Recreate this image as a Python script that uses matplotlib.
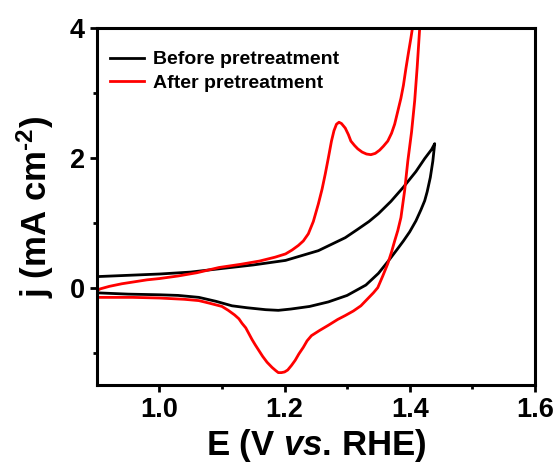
import matplotlib
matplotlib.use("Agg")
import matplotlib.pyplot as plt

plt.rcParams['font.family'] = ['Liberation Sans', 'DejaVu Sans']
plt.rcParams['font.weight'] = 'bold'
plt.rcParams['mathtext.fontset'] = 'custom'
plt.rcParams['mathtext.rm'] = 'Liberation Sans:bold'
plt.rcParams['mathtext.it'] = 'Liberation Sans:italic:bold'
plt.rcParams['mathtext.bf'] = 'Liberation Sans:bold'
plt.rcParams['mathtext.default'] = 'rm'

# Before pretreatment: anodic sweep then cathodic sweep
before_up_E = [0.90, 0.95, 1.00, 1.05, 1.095, 1.15, 1.2016, 1.254, 1.297, 1.317, 1.335, 1.35, 1.37,
               1.39, 1.41, 1.424, 1.435, 1.44]
before_up_j = [0.17, 0.19, 0.21, 0.24, 0.29, 0.35, 0.42, 0.57, 0.77, 0.90, 1.02, 1.14, 1.33,
               1.55, 1.79, 1.99, 2.13, 2.22]
before_dn_E = [1.44, 1.437, 1.433, 1.428, 1.424, 1.418, 1.41, 1.40, 1.39, 1.38, 1.365, 1.35, 1.33,
               1.30, 1.27, 1.24, 1.21, 1.19, 1.17, 1.14, 1.116, 1.09, 1.063, 1.03, 1.00, 0.95, 0.90]
before_dn_j = [2.22, 1.95, 1.70, 1.48, 1.34, 1.20, 1.03, 0.86, 0.72, 0.59, 0.40, 0.22, 0.04,
               -0.12, -0.22, -0.29, -0.33, -0.35, -0.34, -0.31, -0.28, -0.21, -0.15, -0.12, -0.11,
               -0.10, -0.08]

# After pretreatment
after_up_E = [0.90, 0.905, 0.92, 0.94, 0.96, 0.98, 1.00, 1.03, 1.06, 1.095, 1.13, 1.16, 1.185,
              1.2016, 1.212, 1.222, 1.23, 1.238, 1.246, 1.254, 1.26, 1.265, 1.27, 1.275, 1.279,
              1.283, 1.287, 1.291, 1.297, 1.302, 1.306, 1.312, 1.317, 1.324, 1.331, 1.338, 1.345,
              1.352, 1.358, 1.365, 1.371, 1.376, 1.381, 1.386, 1.39, 1.394, 1.398, 1.402, 1.406,
              1.41]
after_up_j = [-0.05, -0.02, 0.02, 0.06, 0.09, 0.12, 0.14, 0.18, 0.23, 0.31, 0.36, 0.41, 0.47,
              0.52, 0.58, 0.65, 0.72, 0.83, 1.02, 1.29, 1.52, 1.75, 2.00, 2.26, 2.42,
              2.52, 2.55, 2.53, 2.46, 2.36, 2.26, 2.19, 2.14, 2.09, 2.06, 2.05, 2.07,
              2.12, 2.18, 2.26, 2.38, 2.52, 2.72, 2.92, 3.12, 3.38, 3.62, 3.85, 4.10,
              4.50]
after_dn_E = [1.419, 1.416, 1.412, 1.408, 1.403, 1.397, 1.392, 1.386, 1.381, 1.376, 1.371, 1.365,
              1.357, 1.349, 1.342, 1.335, 1.322, 1.31, 1.297, 1.285, 1.27, 1.256, 1.243, 1.236,
              1.23, 1.223, 1.217, 1.211, 1.205, 1.20, 1.195, 1.19, 1.186, 1.18, 1.172, 1.165,
              1.159, 1.153, 1.148, 1.143, 1.138, 1.132, 1.127, 1.12, 1.11, 1.10, 1.08, 1.063,
              1.04, 1.00, 0.957, 0.92, 0.90]
after_dn_j = [4.50, 4.00, 3.40, 2.88, 2.40, 1.95, 1.50, 1.08, 0.88, 0.72, 0.55, 0.37,
              0.18, 0.00, -0.08, -0.15, -0.28, -0.36, -0.43, -0.49, -0.58, -0.66, -0.74, -0.82,
              -0.92, -1.02, -1.12, -1.20, -1.27, -1.30, -1.31, -1.31, -1.28, -1.23, -1.15, -1.06,
              -0.97, -0.88, -0.80, -0.71, -0.62, -0.55, -0.48, -0.42, -0.35, -0.29, -0.24, -0.20,
              -0.18, -0.16, -0.15, -0.15, -0.15]

fig = plt.figure(figsize=(5.6, 4.7), dpi=100)
ax = fig.add_axes([0.173, 0.181, 0.782, 0.759])

ax.plot(before_up_E + before_dn_E, before_up_j + before_dn_j, color='black', lw=2.0,
        label='Before pretreatment')
ax.plot(after_up_E + after_dn_E, after_up_j + after_dn_j, color='red', lw=2.0,
        label='After pretreatment')

ax.set_xlim(0.9, 1.6)
ax.set_ylim(-1.5, 4)
ax.set_xticks([1.0, 1.2, 1.4, 1.6])
ax.set_xticks([1.1, 1.3, 1.5], minor=True)
ax.set_yticks([0, 2, 4])
ax.set_yticks([-1, 1, 3], minor=True)
ax.tick_params(which='major', direction='out', length=5, width=2, labelsize=19.5)
ax.tick_params(which='minor', direction='out', length=3, width=2)
for s in ax.spines.values():
    s.set_linewidth(2.2)

ax.set_xlabel('E (V $\\mathit{vs}$. RHE)', fontsize=25, fontweight='bold', labelpad=3)
ax.set_ylabel('j (mA cm$^{\\text{-2}}$)', fontsize=25, fontweight='bold', labelpad=10)

ax.legend(loc='upper left', frameon=False, fontsize=14, handlelength=1.7,
          borderaxespad=0.3, labelspacing=0.3, handletextpad=0.5,
          bbox_to_anchor=(0.0, 0.975))

plt.savefig('out.png', dpi=100)
